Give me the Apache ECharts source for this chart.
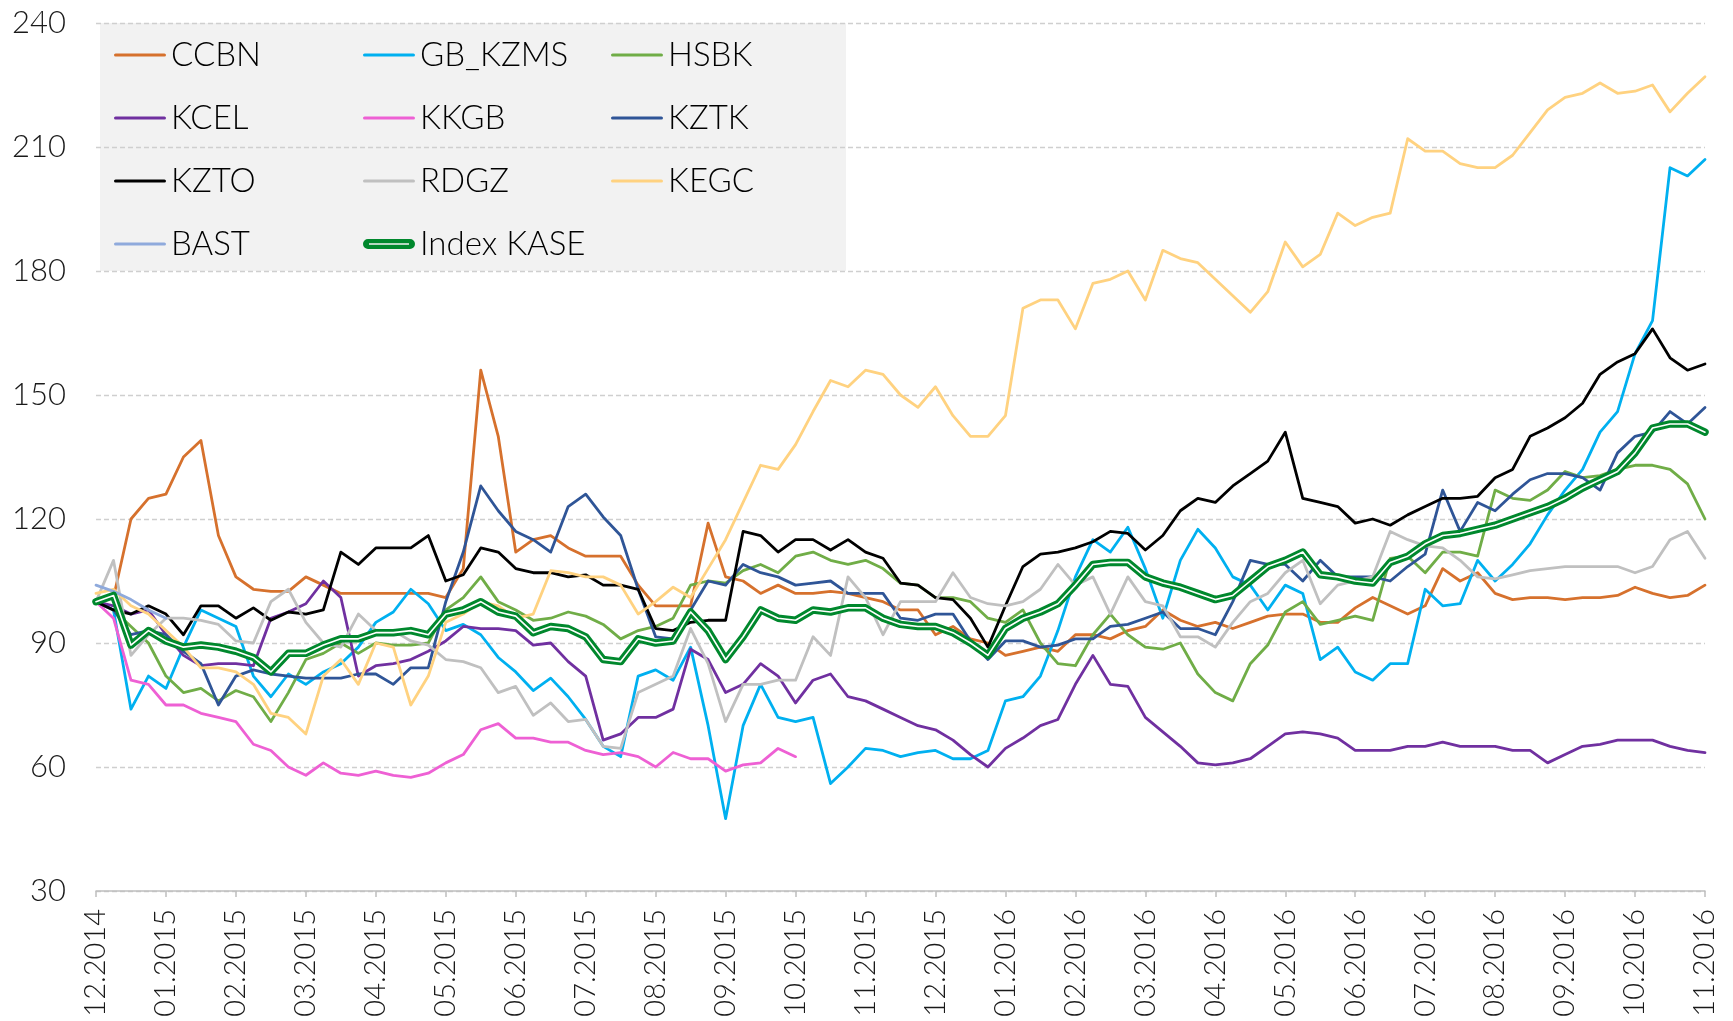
<!DOCTYPE html>
<html>
<head>
<meta charset="utf-8">
<script src="https://cdn.jsdelivr.net/npm/echarts@6/dist/echarts.min.js"></script>
<style>
html,body{margin:0;padding:0;background:#fff;}
#c{width:1733px;height:1021px;}
</style>
</head>
<body>
<div id="c"></div>
<script>
// Month tick labels (x axis), 4 weekly points per month
const months = ['12.2014','01.2015','02.2015','03.2015','04.2015','05.2015','06.2015','07.2015','08.2015','09.2015','10.2015','11.2015','12.2015','01.2016','02.2016','03.2016','04.2016','05.2016','06.2016','07.2016','08.2016','09.2016','10.2016','11.2016'];
const yTicks = [30, 60, 90, 120, 150, 180, 210, 240];

const CCBN = [100,101,120,125,126,135,139,116,106,103,102.5,
102.5,106,104,102,102,102,102,102,102,101,
108,156,140,112,115,116,113,111,111,111,104,
99,99,99,119,106,105,102,104,102,102,
102.5,102,101,100,98,98,92,94,91,90,
87,88,89,88,92,92,91,93,94,98,95.5,
94,95,93.5,95,96.5,97,97,95,95,98.5,
101,99,97,99,108,105,107,102,100.5,101,
101,100.5,101,101,101.5,103.5,102,101,101.5,104];

const GB_KZMS = [100,98,74,82,79,89,98,96,94,82,77,
82.5,80,83,85,89,95,97.5,103,99.5,93,
94.5,92,86.5,83,78.5,81.5,77,71.5,65,62.5,82,
83.5,81,89,70,47.5,70,80,72,71,72,
56,60,64.5,64,62.5,63.5,64,62,62,64,
76,77,82,93,106,115,112,118,108,96,110,
117.5,113,106,104,98,104,102,86,89,83,
81,85,85,103,99,99.5,110,105,109,114,
121,127,132,141,146,160,168,205,203,207];

const HSBK = [100,98,94,90,82,78,79,76,78.5,77,71,
78,86,87.5,90,87.5,90,89.5,89.5,90,98,
101,106,100,98,95.5,96,97.5,96.5,94.5,91,93,
94,96,104,105,104.5,107.5,109,107,111,112,
110,109,110,108,104.5,104,101,101,100,96,
95,98,90,85,84.5,92,97,92,89,88.5,90,
82.5,78,76,85,89.5,97.5,100,94.5,95.5,96.5,
95.5,110.5,111,107,112,112,111,127,125,124.5,
127,131.5,130,130.5,132,133,133,132,128.5,120];

const KCEL = [100,99,97,98,92,87,84.5,85,85,84.5,96,
97.5,99.5,105,101,82,84.5,85,86,88,90.5,
94,93.5,93.5,93,89.5,90,85.5,82,66.5,68,72,
72,74,88.5,86,78,80,85,82,75.5,81,
82.5,77,76,74,72,70,69,66.5,63,60,
64.5,67,70,71.5,80,87,80,79.5,72,68.5,65,
61,60.5,61,62,65,68,68.5,68,67,64,
64,64,65,65,66,65,65,65,64,64,
61,63,65,65.5,66.5,66.5,66.5,65,64,63.5];

const KKGB = [100,96,81,80,75,75,73,72,71,65.5,64,
60,58,61,58.5,58,59,58,57.5,58.5,61,
63,69,70.5,67,67,66,66,64,63,63.5,62.5,
60,63.5,62,62,59,60.5,61,64.5,62.5];

const KZTK = [100,98,92,93,92,88,85,75,82,83.5,82.5,
82,81.5,81.5,81.5,82.5,82.5,80,84,84,100,
112,128,122,117,115,112,123,126,120.5,116,103,
91.5,91,98,105,104,109,107,106,104,104.5,
105,102,102,102,96,95.5,97,97,90.5,86,
90.5,90.5,89,89.5,91,91,94,94.5,96,97.5,93.5,
93.5,92,100,110,109,109,105,110,106,106,
106,105,108.5,111.5,127,117,124,122,126,129.5,
131,131,130,127,136,140,141,146,143,147];

const KZTO = [100,98,97,99,97,92,99,99,96,98.5,95.5,
97.5,97,98,112,109,113,113,113,116,105,
106.5,113,112,108,107,107,106,106.5,104,104,103,
93.5,93,95,95.5,95.5,117,116,112,115,115,
112.5,115,112,110.5,104.5,104,101,100.5,96,89,
99,108.5,111.5,112,113,114.5,117,116.5,112.5,116,122,
125,124,128,131,134,141,125,124,123,119,
120,118.5,121,123,125,125,125.5,130,132,140,
142,144.5,148,155,158,160,166,159,156,157.5];

const RDGZ = [100,110,87,92,96,96,95.5,94.5,90.5,90,100,
103,95,90,89,97,93,93,90.5,89.5,86,
85.5,84,78,79.5,72.5,75.5,71,71.5,65,64.5,78,
80,82,93.5,85,71,80,80,81,81,91.5,
87,106,101,92,100,100,100,107,101,99.5,
99,100,103,109,104,106,97,106,100,99,91.5,
91.5,89,95,100,102,107,110,99.5,104,105,
106,117,115,113.5,113,110,106,105.5,106.5,107.5,
108,108.5,108.5,108.5,108.5,107,108.5,115,117,110.5];

const KEGC = [102,103,99,97,93,89,84,84,83,80,73,
72,68,82,86,80,90,89,75,82,95,
97,100,99,96,97,107.5,107,106,106,104,97,
100,103.5,101,108,115,124,133,132,138,146,
153.5,152,156,155,150,147,152,145,140,140,
145,171,173,173,166,177,178,180,173,185,183,
182,178,174,170,175,187,181,184,194,191,
193,194,212,209,209,206,205,205,208,213.5,
219,222,223,225.5,223,223.5,225,218.5,223,227];

const BAST = [104,102.5,100.5,98,96];

const INDEX_KASE = [100,101.5,89.5,93,90.5,89,89.5,89,88,86.5,83,
87.5,87.5,89.5,91,91,92.5,92.5,93,92,97,
98,100,97.5,96.5,92.5,94,93.5,91.5,86,85.5,91,
90,90.5,97.5,93,86,91.5,98,96,95.5,98,
97.5,98.5,98.5,96,94.5,94,94,92.5,90,87,
93.5,96,97.5,99.5,104,109,109.5,109.5,106,104.5,103.5,
102,100.5,101.5,105,108.5,110,112,106.5,106,105,
104.5,109.5,111,114,116,116.5,117.5,118.5,120,121.5,
123,125,127.5,129.5,131.5,136,142,143,143,141];

// categories built from month labels (4 points per month)
const PER_MONTH = 4;
const categories = [];
for (let m = 0; m < months.length - 1; m++) {
  for (let w = 0; w < PER_MONTH; w++) categories.push(w === 0 ? months[m] : months[m] + ' w' + (w + 1));
}
categories.push(months[months.length - 1]);

const FONT = 'Lato';
const colors = {
  CCBN: '#D6712D', GB_KZMS: '#00B0F0', HSBK: '#70AD47', KCEL: '#7030A0', KKGB: '#EE60D4',
  KZTK: '#2F5597', KZTO: '#000000', RDGZ: '#C0C0C0', KEGC: '#FFD280', BAST: '#8FAADC', IDX: '#00882D'
};

function lineSeries(name, data, color, width) {
  return {
    name: name, type: 'line', data: data, symbol: 'none', showSymbol: false,
    lineStyle: { color: color, width: width || 2.8, cap: 'round', join: 'round' },
    itemStyle: { color: color }, connectNulls: false, animation: false
  };
}

const series = [
  lineSeries('CCBN', CCBN, colors.CCBN),
  lineSeries('GB_KZMS', GB_KZMS, colors.GB_KZMS),
  lineSeries('HSBK', HSBK, colors.HSBK),
  lineSeries('KCEL', KCEL, colors.KCEL),
  lineSeries('KKGB', KKGB, colors.KKGB),
  lineSeries('KZTK', KZTK, colors.KZTK),
  lineSeries('KZTO', KZTO, colors.KZTO),
  lineSeries('RDGZ', RDGZ, colors.RDGZ),
  lineSeries('KEGC', KEGC, colors.KEGC),
  lineSeries('BAST', BAST, colors.BAST),
  lineSeries('Index KASE', INDEX_KASE, colors.IDX, 7.5),
  lineSeries('Index KASE ', INDEX_KASE, '#FFFFFF', 1.6)
];

// legend icons: both have a 52x10 bounding box so no rescaling happens
const lineIcon = 'path://M0,0 L0.01,0 L0,0.01 Z M1.6,3.4 L50.4,3.4 A1.6,1.6 0 0 1 50.4,6.6 L1.6,6.6 A1.6,1.6 0 0 1 1.6,3.4 Z M0,10 L0.01,10 L0,9.99 Z';
const ringIcon = 'path://M5,0 L47,0 A5,5 0 0 1 47,10 L5,10 A5,5 0 0 1 5,0 Z M6,4.2 L6,5.8 L46,5.8 L46,4.2 Z';

function legendCol(left, names) {
  return {
    orient: 'vertical', left: left, top: 31, padding: 5,
    itemWidth: 52, itemHeight: 10, itemGap: 25,
    selectedMode: false,
    itemStyle: { borderWidth: 0 },
    textStyle: { fontFamily: FONT, fontWeight: 300, fontSize: 33, color: '#000', lineHeight: 38 },
    data: names.map(n => ({
      name: n,
      icon: n === 'Index KASE' ? ringIcon : lineIcon,
      itemStyle: { color: n === 'Index KASE' ? colors.IDX : colors[n], borderWidth: 0 }
    }))
  };
}

const chart = echarts.init(document.getElementById('c'), null, { renderer: 'canvas' });
chart.setOption({
  animation: false,
  backgroundColor: '#ffffff',
  graphic: [{
    type: 'rect', z: -10, silent: true,
    shape: { x: 100, y: 23, width: 746, height: 248 },
    style: { fill: '#F2F2F2' }
  }],
  legend: [
    legendCol(109, ['CCBN', 'KCEL', 'KZTO', 'BAST']),
    legendCol(358, ['GB_KZMS', 'KKGB', 'RDGZ', 'Index KASE']),
    legendCol(606, ['HSBK', 'KZTK', 'KEGC'])
  ],
  grid: { left: 96, right: 28, top: 23, bottom: 130, outerBoundsMode: 'none' },
  xAxis: {
    type: 'category', data: categories, boundaryGap: false,
    axisLine: { lineStyle: { color: '#BFBFBF', width: 1.5 } },
    axisTick: { show: true, interval: PER_MONTH - 1, length: 6, lineStyle: { color: '#BFBFBF', width: 1.5 } },
    axisLabel: { interval: PER_MONTH - 1, rotate: 90, margin: 18, fontFamily: FONT, fontWeight: 300, fontSize: 29, color: '#1a1a1a' },
    splitLine: { show: false }
  },
  yAxis: {
    type: 'value', min: yTicks[0], max: yTicks[yTicks.length - 1], interval: 30,
    axisLine: { show: false }, axisTick: { show: false },
    axisLabel: { margin: 30, fontFamily: FONT, fontWeight: 300, fontSize: 31, color: '#1a1a1a' },
    splitLine: { show: true, lineStyle: { color: '#CFCFCF', width: 1.3, type: [5, 3] } }
  },
  series: series
});
</script>
</body>
</html>
